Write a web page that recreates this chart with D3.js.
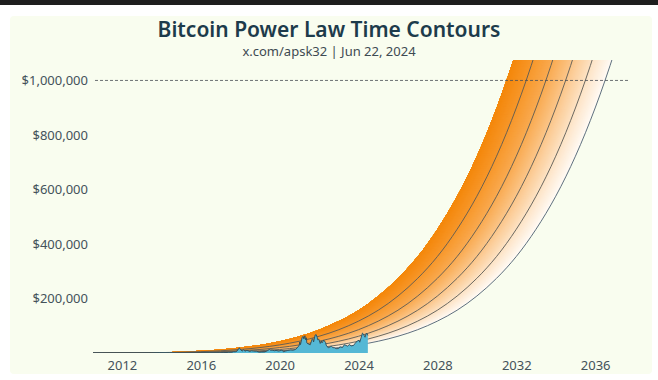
<!DOCTYPE html>
<html>
<head>
<meta charset="utf-8">
<script src="https://cdn.jsdelivr.net/npm/d3@7"></script>
<style>
  body { margin: 0; background: #ffffff; }
  svg { display: block; }
</style>
</head>
<body>
<div id="container"></div>
<script>
// power law curve (bottom contour): decimal year -> price
const curveYears = [2010, 2011, 2012, 2013, 2014, 2015, 2016, 2017, 2018, 2019,
                    2020, 2021, 2022, 2023, 2024, 2025, 2026, 2027, 2028, 2029,
                    2030, 2031, 2032, 2033, 2034, 2035, 2036, 2037, 2038, 2039]
const curveValues = [0, 0.25, 2.6, 14, 51, 146, 357, 774, 1530, 2830,
                     4910, 8120, 12900, 19900, 29700, 43200, 61400, 85500, 117000, 157000,
                     209000, 274000, 354000, 454000, 575000, 722000, 899000, 1109000, 1359000, 1650000]

// time contours: the same curve moved earlier by whole years
const contourOffsets = [0, 1, 2, 3, 4, 5]

// bitcoin price history
const priceDates = ["2010-07-17", "2011-01-15", "2011-06-08", "2011-12-01", "2012-06-01", "2012-12-01",
  "2013-04-09", "2013-07-01", "2013-11-30", "2014-02-01", "2014-06-01", "2014-12-01", "2015-06-01",
  "2015-12-01", "2016-06-15", "2016-12-15", "2017-03-01", "2017-06-01", "2017-08-01", "2017-09-01",
  "2017-10-01", "2017-11-01", "2017-12-17", "2018-01-01", "2018-02-06", "2018-03-05", "2018-04-01",
  "2018-05-05", "2018-06-28", "2018-07-25", "2018-09-01", "2018-11-01", "2018-12-15", "2019-02-01",
  "2019-04-01", "2019-05-15", "2019-06-26", "2019-07-15", "2019-08-15", "2019-09-30", "2019-10-26",
  "2019-12-15", "2020-02-12", "2020-03-12", "2020-04-15", "2020-06-01", "2020-07-27", "2020-09-05",
  "2020-10-21", "2020-11-24", "2020-12-31", "2021-01-08", "2021-01-22", "2021-02-21", "2021-03-13",
  "2021-03-25", "2021-04-14", "2021-04-25", "2021-05-10", "2021-05-19", "2021-06-22", "2021-07-20",
  "2021-08-23", "2021-09-06", "2021-09-21", "2021-10-20", "2021-11-08", "2021-11-28", "2021-12-04",
  "2021-12-27", "2022-01-22", "2022-02-10", "2022-02-24", "2022-03-28", "2022-05-01", "2022-05-12",
  "2022-06-18", "2022-08-14", "2022-09-15", "2022-10-15", "2022-11-09", "2022-12-30", "2023-01-20",
  "2023-03-10", "2023-04-14", "2023-06-15", "2023-07-13", "2023-08-18", "2023-10-01", "2023-10-24",
  "2023-12-08", "2024-01-11", "2024-01-23", "2024-02-28", "2024-03-14", "2024-04-01", "2024-05-01",
  "2024-05-21", "2024-06-07", "2024-06-22"]
const priceValues = [0.05, 0.4, 30, 3, 5.3, 12.5,
  230, 90, 1100, 800, 650, 370, 225,
  400, 750, 780, 1200, 2400, 2800, 4700,
  4400, 6700, 19300, 13400, 6900, 11500, 6800,
  9800, 5900, 8200, 7100, 6300, 3200, 3500,
  4100, 8000, 12900, 10200, 10300, 8300, 9500,
  7100, 10300, 4900, 6900, 9500, 11000, 10300,
  12900, 19100, 29000, 40700, 30800, 57500, 61000,
  51700, 63500, 49000, 56000, 37000, 32500, 29800,
  49500, 52700, 40500, 66000, 67500, 57000, 49000,
  50700, 35000, 44000, 37000, 47400, 38500, 29000,
  19000, 24400, 19700, 19100, 15900, 16500, 22600,
  20200, 30400, 25100, 31400, 26100, 27900, 34000,
  44000, 46600, 39500, 62500, 73100, 69700, 57800,
  71400, 71000, 64200]

const xTicks = [2012, 2016, 2020, 2024, 2028, 2032, 2036]
const yTicks = [200000, 400000, 600000, 800000, 1000000]

const title = "Bitcoin Power Law Time Contours"
const subtitle = "x.com/apsk32 | Jun 22, 2024"

const width = 658, height = 380
const plot = {left: 93, right: 628, top: 60, bottom: 353}
const font = "'Noto Sans', 'Open Sans', sans-serif"

const container = d3.select("#container")
const svg = container.append("svg")
                     .attr("width", width)
                     .attr("height", height)

// frame: dark strip on top, cream card
svg.append("rect").attr("x", 0).attr("y", 0).attr("width", width).attr("height", 5).attr("fill", "#1e1e1e")
svg.append("rect")
   .attr("x", 10).attr("y", 16).attr("width", 642).attr("height", 358)
   .attr("rx", 4)
   .attr("fill", "#f9fdef")

// decimal year helper
const toYear = s => {
    const d = new Date(s + "T00:00:00Z")
    const y = d.getUTCFullYear()
    const start = Date.UTC(y, 0, 1), end = Date.UTC(y + 1, 0, 1)
    return y + (d - start) / (end - start)
}

const base = curveYears.map((t, i) => ({t: t, v: curveValues[i]}))
const prices = priceDates.map((s, i) => ({t: toYear(s), v: priceValues[i]}))

// scales
const xScale = d3.scaleLinear()
                 .domain([toYear("2010-07-15"), toYear("2037-09-01")])
                 .range([plot.left, plot.right])
const yScale = d3.scaleLinear()
                 .domain([0, 1075000])
                 .range([plot.bottom, plot.top])

svg.append("clipPath").attr("id", "plot-clip")
   .append("rect")
   .attr("x", plot.left).attr("y", plot.top)
   .attr("width", plot.right - plot.left).attr("height", plot.bottom - plot.top)

const chart = svg.append("g").attr("clip-path", "url(#plot-clip)")

// shading between the outermost contours, dark on the left, light on the right
const maxOff = d3.max(contourOffsets)
const bandColor = d3.scaleLinear()
                    .domain([0, 1, 2, 3, 4, 5])
                    .range(["#fffaf4", "#fde2c3", "#fbc588", "#f9aa50", "#f7972a", "#f4870a"])
                    .interpolate(d3.interpolateRgb)
const steps = d3.range(0, maxOff, 0.05)

const bandArea = off => d3.area()
    .curve(d3.curveCatmullRom)
    .y(d => yScale(d.v))
    .x0(d => xScale(d.t - off))
    .x1(d => xScale(d.t - maxOff))

chart.selectAll(".shade")
     .data(steps)
     .join("path")
     .attr("class", "shade")
     .attr("d", f => bandArea(f)(base))
     .attr("fill", f => bandColor(f))

// contour lines (the outer edge on the left has none)
const contourLine = off => d3.line()
    .curve(d3.curveCatmullRom)
    .x(d => xScale(d.t - off))
    .y(d => yScale(d.v))

chart.selectAll(".contour")
     .data(contourOffsets.filter(k => k < maxOff))
     .join("path")
     .attr("class", "contour")
     .attr("d", k => contourLine(k)(base))
     .attr("fill", "none")
     .attr("stroke", k => k === 0 ? "#4d6070" : "#5a5a55")
     .attr("stroke-width", 0.9)

// price history
chart.append("path")
     .datum(prices)
     .attr("d", d3.area().x(d => xScale(d.t)).y0(yScale(0)).y1(d => yScale(d.v)))
     .attr("fill", "#55b8d5")
chart.append("path")
     .datum(prices)
     .attr("d", d3.line().x(d => xScale(d.t)).y(d => yScale(d.v)))
     .attr("fill", "none")
     .attr("stroke", "#2c4b58")
     .attr("stroke-width", 0.9)

// $1M reference line
svg.append("line")
   .attr("x1", plot.left + 2).attr("x2", plot.right)
   .attr("y1", yScale(1000000)).attr("y2", yScale(1000000))
   .attr("stroke", "#4a4f55")
   .attr("stroke-width", 0.8)
   .attr("stroke-dasharray", "3,2")

// axes
const yAxis = d3.axisLeft(yScale)
                .tickValues(yTicks)
                .tickSize(0)
                .tickPadding(5)
                .tickFormat(d => "$" + d3.format(",")(d))
const gy = svg.append("g")
              .attr("transform", `translate(${plot.left}, 0)`)
              .call(yAxis)
gy.select(".domain").remove()

const xAxis = d3.axisBottom(xScale)
                .tickValues(xTicks)
                .tickSize(0)
                .tickPadding(8)
                .tickFormat(d3.format("d"))
const gx = svg.append("g")
              .attr("transform", `translate(0, ${plot.bottom})`)
              .call(xAxis)
gx.select(".domain").remove()

svg.selectAll(".tick text")
   .attr("font-family", font)
   .attr("font-size", "13px")
   .attr("fill", "#44525a")

// titles
svg.append("text")
   .attr("x", width / 2).attr("y", 37)
   .attr("text-anchor", "middle")
   .attr("font-family", font)
   .attr("font-weight", 600)
   .attr("font-size", "21px")
   .attr("fill", "#1d3b4b")
   .text(title)
svg.append("text")
   .attr("x", width / 2).attr("y", 56)
   .attr("text-anchor", "middle")
   .attr("font-family", font)
   .attr("font-size", "13px")
   .attr("fill", "#3e4a52")
   .text(subtitle)
</script>
</body>
</html>
